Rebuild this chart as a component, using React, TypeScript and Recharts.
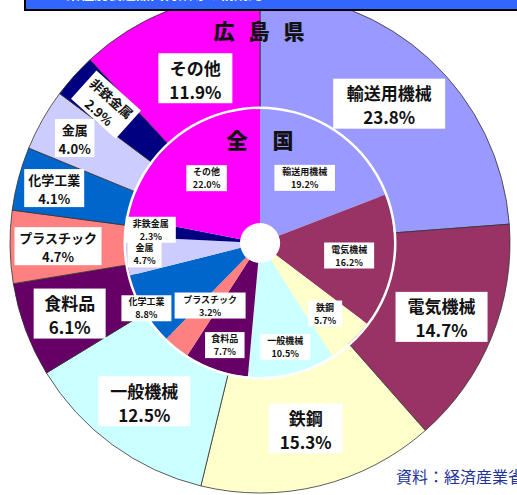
import React from 'react';
import { PieChart, Pie, Cell } from 'recharts';

const categories = ['輸送用機械', '電気機械', '鉄鋼', '一般機械', '食料品', 'プラスチック', '化学工業', '金属', '非鉄金属', 'その他'];
const hiroshimaShares = [23.8, 14.7, 15.3, 12.5, 6.1, 4.7, 4.1, 4.0, 2.9, 11.9];
const nationalShares = [19.2, 16.2, 5.7, 10.5, 7.7, 3.2, 8.8, 4.7, 2.3, 22.0];
const sliceColors = ['#9999FF', '#993366', '#FFFFCC', '#CCFFFF', '#660066', '#FF8080', '#0066CC', '#CCCCFF', '#000080', '#FF00FF'];

// label placement (distance of each label from the centre), style only
const outerLabelRadius = [190, 196, 191, 196, 203, 202, 213, 213, 207, 177];
const innerLabelRadius = [79, 90, 96, 107, 108, 80, 131, 116, 110, 84];

const outerTitle = ['広', '島', '県'];
const innerTitle = ['全', '国'];
const sourceNote = '資料：経済産業省「工業統計調査」';

const hiroshimaData = categories.map((name, i) => ({ name, value: hiroshimaShares[i] }));
const nationalData = categories.map((name, i) => ({ name, value: nationalShares[i] }));
const ringData = [{ name: 'ring', value: 1 }];

const RAD = Math.PI / 180;
const FONT = '"Noto Sans CJK JP", "Noto Sans", sans-serif';

const makeLabel = (ring: 'outer' | 'inner') => (props: any) => {
  const { cx, cy, midAngle, index } = props;
  const share = ring === 'outer' ? hiroshimaShares[index] : nationalShares[index];
  const name = categories[index];
  const pct = share.toFixed(1) + '%';
  let r: number, font: number, charW: number, pad: number, h: number, l1: number, l2: number;
  let rotate = 0;
  if (ring === 'outer') {
    const big = share >= 5;
    r = outerLabelRadius[index];
    font = big ? 17 : 13;
    charW = big ? 20 : 13.5;
    pad = big ? 12 : 6;
    h = big ? 50 : 38;
    l1 = big ? -11 : -8.5;
    l2 = big ? 13 : 10;
    if (share < 3.5) {
      const top = ((90 - midAngle) % 360 + 360) % 360;
      rotate = top - 270;
    }
  } else {
    r = innerLabelRadius[index];
    font = 9;
    charW = 10.5;
    pad = 8;
    h = 26;
    l1 = -6.5;
    l2 = 6.5;
  }
  const x = cx + r * Math.cos(-midAngle * RAD);
  const y = cy + r * Math.sin(-midAngle * RAD);
  const w = Math.max(name.length * charW, pct.length * charW * 0.62) + pad;
  return (
    <g transform={`translate(${x},${y}) rotate(${rotate})`}>
      <rect x={-w / 2} y={-h / 2} width={w} height={h} fill="#ffffff" />
      <text x={0} y={l1} textAnchor="middle" dominantBaseline="central" fontSize={font} fontWeight="bold" fontFamily={FONT} fill="#111">
        {name}
      </text>
      <text x={0} y={l2} textAnchor="middle" dominantBaseline="central" fontSize={font} fontWeight="bold" fontFamily={FONT} fill="#111">
        {pct}
      </text>
    </g>
  );
};

export default function App() {
  return (
    <div style={{ position: 'absolute', left: 0, top: 0, width: 517, height: 495, overflow: 'hidden', background: '#fff', fontFamily: FONT }}>
      <PieChart width={517} height={495} margin={{ top: 0, right: 0, bottom: 0, left: 0 }}>
        <Pie
          data={hiroshimaData}
          dataKey="value"
          cx={260}
          cy={243}
          innerRadius={128}
          outerRadius={250}
          startAngle={90}
          endAngle={-270}
          stroke="#333"
          strokeWidth={0.8}
          label={makeLabel('outer')}
          labelLine={false}
          isAnimationActive={false}
        >
          {hiroshimaData.map((d, i) => (
            <Cell key={d.name} fill={sliceColors[i]} />
          ))}
        </Pie>
        <Pie
          data={nationalData}
          dataKey="value"
          cx={260}
          cy={243}
          innerRadius={20}
          outerRadius={134}
          startAngle={90}
          endAngle={-270}
          stroke="none"
          label={makeLabel('inner')}
          labelLine={false}
          isAnimationActive={false}
        >
          {nationalData.map((d, i) => (
            <Cell key={d.name} fill={sliceColors[i]} />
          ))}
        </Pie>
        <Pie
          data={ringData}
          dataKey="value"
          cx={260}
          cy={243}
          innerRadius={134}
          outerRadius={136.5}
          startAngle={90}
          endAngle={-270}
          fill="#ffffff"
          stroke="none"
          isAnimationActive={false}
        />
      </PieChart>

      <div style={{ position: 'absolute', left: 24, top: 0, width: 493, height: 9, background: '#3366FF', borderLeft: '2px solid #000', borderBottom: '2px solid #000', overflow: 'hidden' }}>
        <div style={{ position: 'absolute', left: 40, top: -17, color: '#fff', fontSize: 14, lineHeight: '20px', fontWeight: 'bold', whiteSpace: 'nowrap' }}>
          業種別製造品出荷額等の構成比
        </div>
      </div>

      {outerTitle.map((c, i) => (
        <div key={c} style={{ position: 'absolute', left: 213 + i * 35, top: 18, width: 22, fontSize: 21, lineHeight: '24px', fontWeight: 900, color: '#111', textAlign: 'center' }}>
          {c}
        </div>
      ))}
      {innerTitle.map((c, i) => (
        <div key={c} style={{ position: 'absolute', left: 226 + i * 46, top: 127, width: 22, fontSize: 21, lineHeight: '24px', fontWeight: 900, color: '#111', textAlign: 'center' }}>
          {c}
        </div>
      ))}
      <div style={{ position: 'absolute', left: 396, top: 466, fontSize: 16, lineHeight: '20px', color: '#1F3399', whiteSpace: 'nowrap' }}>
        {sourceNote}
      </div>
    </div>
  );
}
